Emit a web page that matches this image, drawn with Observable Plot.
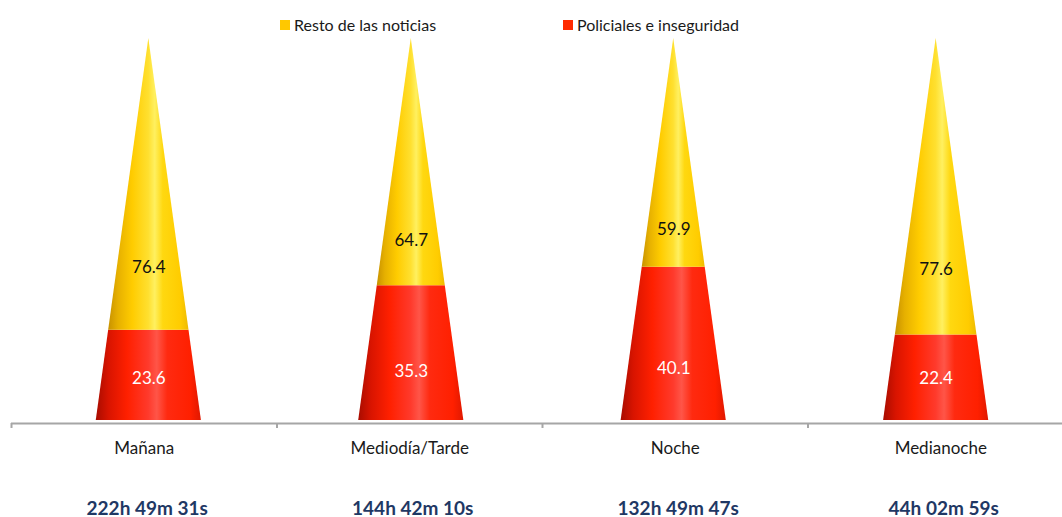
<!DOCTYPE html>
<html>
<head>
<meta charset="utf-8">
<script src="https://cdn.jsdelivr.net/npm/d3@7"></script>
<script src="https://cdn.jsdelivr.net/npm/@observablehq/plot@0.6"></script>
<style>
  html, body { margin: 0; padding: 0; background: #fff; }
  #wrap { position: relative; width: 1062px; height: 517px; font-family: Lato, "Open Sans", sans-serif; }
  .leg { position: absolute; top: 15px; z-index: 2; font-size: 16px; color: #1a1a1a; display: flex; align-items: center; white-space: nowrap; }
  .leg span.sw { display: inline-block; width: 10px; height: 10px; margin-right: 4px; }
</style>
</head>
<body>
<div id="wrap">
  <div class="leg" style="left:280px"><span class="sw" style="background:#ffc800"></span>Resto de las noticias</div>
  <div class="leg" style="left:563px"><span class="sw" style="background:#ff2a00"></span>Policiales e inseguridad</div>
</div>
<script>
const categories = ["Mañana", "Mediodía/Tarde", "Noche", "Medianoche"];
const policiales = [23.6, 35.3, 40.1, 22.4];
const resto = [76.4, 64.7, 59.9, 77.6];
const durations = ["222h 49m 31s", "144h 42m 10s", "132h 49m 47s", "44h 02m 59s"];

// layout constants
const halfBase = 0.198;             // cone half width at base (x units = one category band)
const center = i => i + 0.5 + 0.0115 * (1.5 - i); // slight 3D perspective pull toward middle
const hw = y => halfBase * (1 - y / 100);

function segPoints(lo, hi, i) {
  return [lo, hi].map(y => ({key: i, y, xl: center(i) - hw(y), xr: center(i) + hw(y)}));
}
const redPts = categories.flatMap((c, i) => segPoints(0, policiales[i], i));
const yelPts = categories.flatMap((c, i) => segPoints(policiales[i], policiales[i] + resto[i], i));

const idx = categories.map((c, i) => i);

const chart = Plot.plot({
  width: 1062,
  height: 517,
  marginTop: 38,
  marginBottom: 97,
  marginLeft: 11,
  marginRight: 0,
  x: {domain: [0, 1051 / 265.5], axis: null},
  y: {domain: [0, 100], axis: null},
  style: {fontFamily: "Lato, 'Open Sans', sans-serif", background: "transparent", overflow: "visible"},
  marks: [
    Plot.areaX(redPts, {y: "y", x1: "xl", x2: "xr", z: "key", fill: "url(#gRed)", curve: "linear"}),
    Plot.areaX(yelPts, {y: "y", x1: "xl", x2: "xr", z: "key", fill: "url(#gYel)", curve: "linear"}),
    Plot.ruleY([0], {dy: 3, stroke: "#a6a6a6", strokeWidth: 2}),
    Plot.ruleX([0, 1, 2, 3], {y1: 0, y2: -1.3, dy: 3, stroke: "#a6a6a6", strokeWidth: 2}),
    Plot.text(idx, {x: i => center(i), y: i => 7.5 + 0.15 * policiales[i], text: i => policiales[i].toFixed(1), fill: "white", fontSize: 17}),
    Plot.text(idx, {x: i => center(i), y: i => 26 + 0.6 * policiales[i], text: i => resto[i].toFixed(1), fill: "#111", fontSize: 17}),
    Plot.text(idx, {x: i => i + 0.5, y: 0, dy: 28, text: i => categories[i], fill: "#1a1a1a", fontSize: 17}),
    Plot.text(idx, {x: i => i + 0.5, y: 0, dy: 88, dx: 3, text: i => durations[i], fill: "#1f3864", fontSize: 19, fontWeight: "bold"})
  ]
});

const ns = "http://www.w3.org/2000/svg";
const defs = document.createElementNS(ns, "defs");
function grad(id, stops) {
  const g = document.createElementNS(ns, "linearGradient");
  g.setAttribute("id", id);
  g.setAttribute("x1", "0"); g.setAttribute("x2", "1"); g.setAttribute("y1", "0"); g.setAttribute("y2", "0");
  for (const [o, c] of stops) {
    const s = document.createElementNS(ns, "stop");
    s.setAttribute("offset", o); s.setAttribute("stop-color", c);
    g.appendChild(s);
  }
  defs.appendChild(g);
}
grad("gRed", [[0, "#a80c00"], [0.12, "#d81400"], [0.3, "#ff2000"], [0.5, "#ff3a2c"], [0.58, "#ff5548"], [0.68, "#ff2a10"], [0.9, "#ff2000"], [1, "#e01800"]]);
grad("gYel", [[0, "#c89200"], [0.12, "#e6b000"], [0.3, "#ffcc00"], [0.5, "#ffe030"], [0.58, "#fff060"], [0.68, "#ffd810"], [0.9, "#ffcc00"], [1, "#eebb00"]]);
chart.insertBefore(defs, chart.firstChild);

const wrap = document.getElementById("wrap");
wrap.insertBefore(chart, wrap.firstChild);
chart.style.position = "absolute";
chart.style.left = "0";
chart.style.top = "0";
</script>
</body>
</html>
